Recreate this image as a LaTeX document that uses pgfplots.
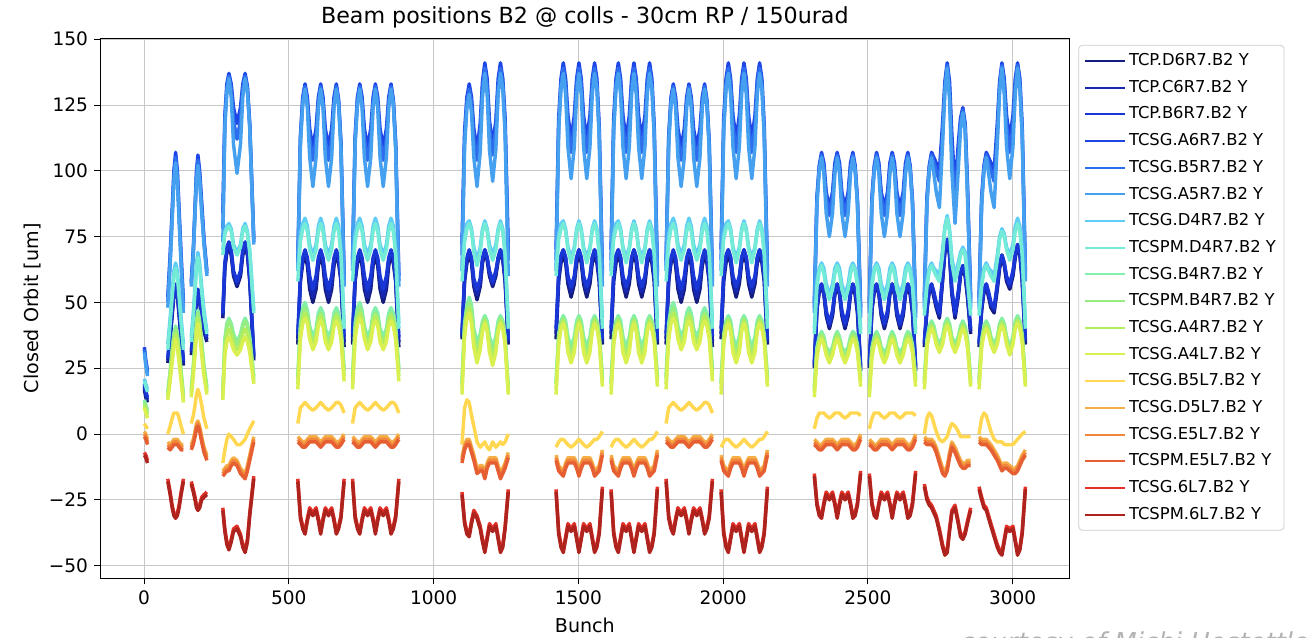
\documentclass[border=0pt]{standalone}
\usepackage{fontspec}
\setmainfont{DejaVu Sans}
\usepackage{pgfplots}
\usepackage{pgfplotstable}
\pgfplotsset{compat=1.18}
\definecolor{s1}{RGB}{20,28,125}
\definecolor{s2}{RGB}{22,40,175}
\definecolor{s3}{RGB}{25,55,215}
\definecolor{s4}{RGB}{30,70,230}
\definecolor{s5}{RGB}{45,110,238}
\definecolor{s6}{RGB}{70,160,240}
\definecolor{s7}{RGB}{95,205,245}
\definecolor{s8}{RGB}{115,235,215}
\definecolor{s9}{RGB}{130,240,170}
\definecolor{s10}{RGB}{150,238,130}
\definecolor{s11}{RGB}{180,238,95}
\definecolor{s12}{RGB}{218,240,80}
\definecolor{s13}{RGB}{255,215,80}
\definecolor{s14}{RGB}{245,175,70}
\definecolor{s15}{RGB}{240,135,60}
\definecolor{s16}{RGB}{230,95,50}
\definecolor{s17}{RGB}{228,50,40}
\definecolor{s18}{RGB}{175,35,30}
\pgfplotstableread{
x n1 n2 n3 u1 u2 u3 c1 c2 g1 g2 g3 g4 yy o1 o2 o3 r1 r2
1 17 18 19 33 32 31 21 20 13 12 11 10 4 1 0 -1 -7 -8
6 14 15 16 28 27 26 19 18 11 10 9 8 3 0 -1 -2 -8 -9
12 12 13 14 24 23 22 17 16 9 8 7 6 2 -2 -3 -4 -10 -11
40 nan nan nan nan nan nan nan nan nan nan nan nan nan nan nan nan nan nan
82 27 28 29 52 50 48 34 32 16 15 14 13 0 -3 -4 -5 -17 -18
90 36 37 38 68 66 64 44 42 24 23 22 20 3 -4 -5 -6 -22 -23
97 45 46 47 85 83 81 54 52 32 31 29 27 6 -3 -4 -5 -27 -28
103 53 53 54 100 98 96 62 60 38 37 35 33 8 -2 -3 -4 -30 -31
109 56 56 57 107 105 103 65 63 41 40 38 36 8 -2 -3 -4 -31 -32
115 53 53 54 100 98 96 62 60 38 37 35 33 8 -2 -3 -4 -30 -31
121 45 46 47 85 83 81 54 52 32 31 29 27 6 -3 -4 -5 -27 -28
128 36 37 38 68 66 64 44 42 24 23 22 20 3 -4 -5 -6 -22 -23
136 26 27 28 50 48 46 34 32 15 14 13 12 0 -4 -5 -6 -17 -18
150 nan nan nan nan nan nan nan nan nan nan nan nan nan nan nan nan nan nan
163 30 31 32 58 57 56 37 35 17 16 15 14 4 -4 -5 -6 -18 -19
170 36 37 38 70 69 68 46 44 26 25 24 22 7 -2 -3 -4 -21 -22
176 43 44 45 86 85 84 56 54 35 34 32 30 11 1 0 -1 -24 -25
181 50 51 51 100 98 96 65 63 43 42 40 38 15 4 3 2 -27 -28
186 54 55 55 106 104 102 69 67 47 46 44 42 17 5 4 3 -28 -29
192 50 51 51 100 98 96 65 63 43 42 40 38 15 3 2 1 -27 -28
199 44 45 46 88 86 84 56 54 35 34 32 30 11 -1 -2 -3 -24 -25
207 39 40 41 74 73 72 47 45 26 25 24 22 6 -5 -6 -7 -23 -24
217 35 36 37 62 61 60 39 38 18 17 16 15 2 -8 -9 -10 -22 -23
245 nan nan nan nan nan nan nan nan nan nan nan nan nan nan nan nan nan nan
272 44 45 46 84 78 73 70 68 16 15 14 13 -11 -14 -15 -16 -28 -29
279 63 64 65 121 119 116 77 76 36 35 32 30 -6 -13 -14 -15 -36 -37
286 69 70 71 133 131 130 79 78 42 41 38 35 -2 -12 -13 -14 -41 -42
293 71 72 73 137 136 135 80 79 44 43 40 37 0 -12 -13 -14 -43 -44
301 68 69 70 133 131 128 78 77 42 41 38 35 -1 -10 -11 -12 -40 -41
309 60 61 62 124 119 110 72 71 38 37 34 32 -2 -9 -10 -11 -36 -37
321 56 57 58 118 112 99 69 68 35 34 32 30 -4 -10 -11 -12 -35 -36
333 60 61 62 124 119 110 72 71 38 37 34 32 -4 -13 -14 -15 -38 -39
341 68 69 70 133 131 128 78 77 42 41 38 35 -3 -14 -15 -16 -42 -43
349 71 72 73 137 136 135 80 79 44 43 40 37 -2 -15 -16 -17 -44 -45
357 68 69 70 132 131 130 77 76 42 41 38 35 0 -12 -13 -14 -40 -41
365 58 59 60 118 117 116 70 69 37 36 34 31 2 -8 -9 -10 -30 -31
379 28 29 30 74 73 72 47 46 22 21 20 19 5 -1 -2 -3 -16 -17
450 nan nan nan nan nan nan nan nan nan nan nan nan nan nan nan nan nan nan
531 34 36 38 66 64 62 62 58 22 21 19 17 4 -1 -2 -3 -17 -18
540 58 59 60 113 112 110 76 73 42 40 38 36 10 -2 -3 -4 -31 -32
548 65 66 67 128 127 125 80 78 48 46 44 42 11 -3 -4 -5 -35 -36
556 68 69 70 133 132 131 82 80 50 48 46 44 12 -3 -4 -5 -37 -38
564 64 66 67 128 126 124 79 77 47 45 44 42 11 -2 -3 -4 -32 -33
572 55 57 60 116 112 105 72 70 41 39 38 36 10 -1 -2 -3 -28 -29
583 50 52 55 109 104 94 68 66 37 35 34 32 9 -1 -2 -3 -30 -31
594 55 57 60 116 112 105 72 70 40 38 37 35 10 -1 -2 -3 -28 -29
602 64 66 67 128 126 124 79 77 46 44 43 41 11 -2 -3 -4 -32 -33
610 68 69 70 133 132 131 82 80 48 46 45 43 12 -3 -4 -5 -37 -38
618 64 66 67 128 126 124 79 77 46 44 43 41 11 -2 -3 -4 -32 -33
626 55 57 60 116 112 105 72 70 40 38 37 35 10 -1 -2 -3 -28 -29
637 50 52 55 109 104 94 68 66 37 35 34 32 9 -1 -2 -3 -30 -31
648 55 57 60 116 112 105 72 70 40 38 37 35 10 -1 -2 -3 -28 -29
656 64 66 67 128 126 124 79 77 46 44 43 41 11 -2 -3 -4 -32 -33
664 68 69 70 133 132 131 82 80 48 46 45 43 12 -3 -4 -5 -37 -38
672 65 66 67 127 126 125 79 77 46 44 43 41 12 -3 -4 -5 -35 -36
680 58 59 60 111 110 108 70 68 41 39 38 36 11 -2 -3 -4 -31 -32
691 33 35 37 60 58 56 42 40 25 24 22 20 8 0 -1 -2 -17 -18
705 nan nan nan nan nan nan nan nan nan nan nan nan nan nan nan nan nan nan
720 34 36 38 66 64 62 62 58 22 21 19 17 4 -1 -2 -3 -17 -18
729 58 59 60 113 112 110 76 73 42 40 38 36 10 -2 -3 -4 -31 -32
737 65 66 67 128 127 125 80 78 48 46 44 42 11 -3 -4 -5 -35 -36
745 68 69 70 133 132 131 82 80 50 48 46 44 12 -3 -4 -5 -37 -38
753 64 66 67 128 126 124 79 77 47 45 44 42 11 -2 -3 -4 -32 -33
761 55 57 60 116 112 105 72 70 41 39 38 36 10 -1 -2 -3 -28 -29
772 50 52 55 109 104 94 68 66 37 35 34 32 9 -1 -2 -3 -30 -31
783 55 57 60 116 112 105 72 70 40 38 37 35 10 -1 -2 -3 -28 -29
791 64 66 67 128 126 124 79 77 46 44 43 41 11 -2 -3 -4 -32 -33
799 68 69 70 133 132 131 82 80 48 46 45 43 12 -3 -4 -5 -37 -38
807 64 66 67 128 126 124 79 77 46 44 43 41 11 -2 -3 -4 -32 -33
815 55 57 60 116 112 105 72 70 40 38 37 35 10 -1 -2 -3 -28 -29
826 50 52 55 109 104 94 68 66 37 35 34 32 9 -1 -2 -3 -30 -31
837 55 57 60 116 112 105 72 70 40 38 37 35 10 -1 -2 -3 -28 -29
845 64 66 67 128 126 124 79 77 46 44 43 41 11 -2 -3 -4 -32 -33
853 68 69 70 133 132 131 82 80 48 46 45 43 12 -3 -4 -5 -37 -38
861 65 66 67 127 126 125 79 77 46 44 43 41 12 -3 -4 -5 -35 -36
869 58 59 60 111 110 108 70 68 41 39 38 36 11 -2 -3 -4 -31 -32
880 33 35 37 60 58 56 42 40 25 24 22 20 8 0 -1 -2 -17 -18
990 nan nan nan nan nan nan nan nan nan nan nan nan nan nan nan nan nan nan
1098 36 37 38 72 68 62 62 58 20 19 17 15 -4 -9 -10 -11 -22 -23
1107 58 59 60 115 112 109 75 73 42 41 39 37 10 -4 -5 -6 -33 -34
1115 65 66 67 128 126 124 80 78 49 48 46 44 13 -2 -3 -4 -37 -38
1123 68 69 70 133 131 129 81 80 52 50 48 46 12 -2 -3 -4 -38 -39
1131 65 66 67 128 126 122 78 77 49 47 44 42 7 -5 -6 -7 -33 -34
1139 56 57 59 116 112 105 71 69 40 38 35 33 3 -8 -9 -10 -29 -30
1150 51 53 55 108 104 94 66 64 35 33 30 27 -3 -13 -14 -15 -31 -32
1161 56 57 59 118 115 107 71 69 38 36 34 32 -5 -12 -13 -14 -35 -36
1169 65 66 67 134 132 128 78 77 43 42 40 39 -4 -12 -13 -14 -40 -41
1177 69 70 70 141 139 137 81 80 45 44 43 42 -3 -15 -16 -17 -44 -45
1185 66 67 67 135 132 129 78 77 43 41 40 39 -5 -11 -12 -13 -39 -40
1193 60 61 62 119 116 108 72 70 37 35 33 31 -6 -9 -10 -11 -34 -35
1204 56 57 58 110 106 96 68 66 33 31 28 26 -3 -9 -10 -11 -36 -37
1215 60 61 62 119 116 108 72 70 37 35 33 31 -5 -9 -10 -11 -34 -35
1223 66 67 67 135 132 129 78 77 43 41 40 39 -4 -12 -13 -14 -39 -40
1231 69 70 70 141 139 137 81 80 45 44 43 42 -3 -15 -16 -17 -44 -45
1239 66 67 67 135 133 131 78 77 43 42 41 40 -4 -13 -14 -15 -42 -43
1247 58 59 60 120 117 114 69 68 37 36 35 34 -3 -11 -12 -13 -35 -36
1258 34 35 36 70 66 60 42 40 18 17 16 15 0 -7 -8 -9 -21 -22
1340 nan nan nan nan nan nan nan nan nan nan nan nan nan nan nan nan nan nan
1423 36 38 40 70 66 62 64 60 20 19 17 15 -5 -8 -9 -10 -21 -22
1432 58 60 61 120 117 115 76 74 38 37 35 34 -3 -12 -13 -14 -37 -38
1440 65 67 68 135 133 131 80 78 43 42 41 40 -2 -13 -14 -15 -42 -43
1448 68 70 70 141 139 137 81 80 45 44 43 42 -2 -14 -15 -16 -44 -45
1456 65 67 67 135 133 129 78 77 43 41 40 39 -3 -11 -12 -13 -39 -40
1464 57 59 60 121 117 109 71 70 37 35 33 31 -4 -9 -10 -11 -34 -35
1475 52 54 56 112 107 97 67 65 33 31 29 27 -5 -9 -10 -11 -36 -37
1486 57 59 60 121 117 109 71 70 37 35 33 31 -4 -9 -10 -11 -34 -35
1494 65 67 67 135 133 129 78 77 43 41 40 39 -3 -11 -12 -13 -39 -40
1502 68 70 70 141 139 137 81 80 45 44 43 42 -2 -14 -15 -16 -44 -45
1510 65 67 67 135 133 129 78 77 43 41 40 39 -3 -11 -12 -13 -39 -40
1518 57 59 60 121 117 109 71 70 37 35 33 31 -4 -9 -10 -11 -34 -35
1529 52 54 56 112 107 97 67 65 33 31 29 27 -5 -9 -10 -11 -36 -37
1540 57 59 60 121 117 109 71 70 37 35 33 31 -4 -9 -10 -11 -34 -35
1548 65 67 67 135 133 129 78 77 43 41 40 39 -3 -11 -12 -13 -39 -40
1556 68 70 70 141 139 137 81 80 45 44 43 42 -2 -14 -15 -16 -44 -45
1564 65 67 67 135 133 131 78 77 43 42 41 40 -2 -13 -14 -15 -42 -43
1572 58 60 60 117 115 113 70 68 38 37 36 35 -1 -12 -13 -14 -37 -38
1583 34 35 36 62 60 56 44 40 22 21 20 18 1 -6 -7 -8 -20 -21
1598 nan nan nan nan nan nan nan nan nan nan nan nan nan nan nan nan nan nan
1613 36 38 40 70 66 62 64 60 20 19 17 15 -5 -8 -9 -10 -21 -22
1622 58 60 61 120 117 115 76 74 38 37 35 34 -3 -12 -13 -14 -37 -38
1630 65 67 68 135 133 131 80 78 43 42 41 40 -2 -13 -14 -15 -42 -43
1638 68 70 70 141 139 137 81 80 45 44 43 42 -2 -14 -15 -16 -44 -45
1646 65 67 67 135 133 129 78 77 43 41 40 39 -3 -11 -12 -13 -39 -40
1654 57 59 60 121 117 109 71 70 37 35 33 31 -4 -9 -10 -11 -34 -35
1665 52 54 56 112 107 97 67 65 33 31 29 27 -5 -9 -10 -11 -36 -37
1676 57 59 60 121 117 109 71 70 37 35 33 31 -4 -9 -10 -11 -34 -35
1684 65 67 67 135 133 129 78 77 43 41 40 39 -3 -11 -12 -13 -39 -40
1692 68 70 70 141 139 137 81 80 45 44 43 42 -2 -14 -15 -16 -44 -45
1700 65 67 67 135 133 129 78 77 43 41 40 39 -3 -11 -12 -13 -39 -40
1708 57 59 60 121 117 109 71 70 37 35 33 31 -4 -9 -10 -11 -34 -35
1719 52 54 56 112 107 97 67 65 33 31 29 27 -5 -9 -10 -11 -36 -37
1730 57 59 60 121 117 109 71 70 37 35 33 31 -4 -9 -10 -11 -34 -35
1738 65 67 67 135 133 129 78 77 43 41 40 39 -3 -11 -12 -13 -39 -40
1746 68 70 70 141 139 137 81 80 45 44 43 42 -2 -14 -15 -16 -44 -45
1754 65 67 67 135 133 131 78 77 43 42 41 40 -2 -13 -14 -15 -42 -43
1762 58 60 60 117 115 113 70 68 38 37 36 35 -1 -12 -13 -14 -37 -38
1773 34 35 36 62 60 56 44 40 22 21 20 18 1 -6 -7 -8 -20 -21
1788 nan nan nan nan nan nan nan nan nan nan nan nan nan nan nan nan nan nan
1803 34 36 38 66 64 62 62 58 22 21 19 17 4 -1 -2 -3 -17 -18
1812 58 59 60 113 112 110 76 73 42 40 38 36 10 -2 -3 -4 -31 -32
1820 65 66 67 128 127 125 80 78 48 46 44 42 11 -3 -4 -5 -35 -36
1828 68 69 70 133 132 131 82 80 50 48 46 44 12 -3 -4 -5 -37 -38
1836 64 66 67 128 126 124 79 77 47 45 44 42 11 -2 -3 -4 -32 -33
1844 55 57 60 116 112 105 72 70 41 39 38 36 10 -1 -2 -3 -28 -29
1855 50 52 55 109 104 94 68 66 37 35 34 32 9 -1 -2 -3 -30 -31
1866 55 57 60 116 112 105 72 70 40 38 37 35 10 -1 -2 -3 -28 -29
1874 64 66 67 128 126 124 79 77 46 44 43 41 11 -2 -3 -4 -32 -33
1882 68 69 70 133 132 131 82 80 48 46 45 43 12 -3 -4 -5 -37 -38
1890 64 66 67 128 126 124 79 77 46 44 43 41 11 -2 -3 -4 -32 -33
1898 55 57 60 116 112 105 72 70 40 38 37 35 10 -1 -2 -3 -28 -29
1909 50 52 55 109 104 94 68 66 37 35 34 32 9 -1 -2 -3 -30 -31
1920 55 57 60 116 112 105 72 70 40 38 37 35 10 -1 -2 -3 -28 -29
1928 64 66 67 128 126 124 79 77 46 44 43 41 11 -2 -3 -4 -32 -33
1936 68 69 70 133 132 131 82 80 48 46 45 43 12 -3 -4 -5 -37 -38
1944 65 66 67 127 126 125 79 77 46 44 43 41 12 -3 -4 -5 -35 -36
1952 58 59 60 111 110 108 70 68 41 39 38 36 11 -2 -3 -4 -31 -32
1963 33 35 37 60 58 56 42 40 25 24 22 20 8 0 -1 -2 -17 -18
1978 nan nan nan nan nan nan nan nan nan nan nan nan nan nan nan nan nan nan
1993 36 38 40 70 66 62 64 60 20 19 17 15 -5 -8 -9 -10 -21 -22
2002 58 60 61 120 117 115 76 74 38 37 35 34 -3 -12 -13 -14 -37 -38
2010 65 67 68 135 133 131 80 78 43 42 41 40 -2 -13 -14 -15 -42 -43
2018 68 70 70 141 139 137 81 80 45 44 43 42 -2 -14 -15 -16 -44 -45
2026 65 67 67 135 133 129 78 77 43 41 40 39 -3 -11 -12 -13 -39 -40
2034 57 59 60 121 117 109 71 70 37 35 33 31 -4 -9 -10 -11 -34 -35
2045 52 54 56 112 107 97 67 65 33 31 29 27 -5 -9 -10 -11 -36 -37
2056 57 59 60 121 117 109 71 70 37 35 33 31 -4 -9 -10 -11 -34 -35
2064 65 67 67 135 133 129 78 77 43 41 40 39 -3 -11 -12 -13 -39 -40
2072 68 70 70 141 139 137 81 80 45 44 43 42 -2 -14 -15 -16 -44 -45
2080 65 67 67 135 133 129 78 77 43 41 40 39 -3 -11 -12 -13 -39 -40
2088 57 59 60 121 117 109 71 70 37 35 33 31 -4 -9 -10 -11 -34 -35
2099 52 54 56 112 107 97 67 65 33 31 29 27 -5 -9 -10 -11 -36 -37
2110 57 59 60 121 117 109 71 70 37 35 33 31 -4 -9 -10 -11 -34 -35
2118 65 67 67 135 133 129 78 77 43 41 40 39 -3 -11 -12 -13 -39 -40
2126 68 70 70 141 139 137 81 80 45 44 43 42 -2 -14 -15 -16 -44 -45
2134 65 67 67 135 133 131 78 77 43 42 41 40 -2 -13 -14 -15 -42 -43
2142 58 60 60 117 115 113 70 68 38 37 36 35 -1 -12 -13 -14 -37 -38
2153 34 35 36 62 60 56 44 40 22 21 20 18 1 -6 -7 -8 -20 -21
2230 nan nan nan nan nan nan nan nan nan nan nan nan nan nan nan nan nan nan
2315 25 26 27 50 48 46 40 38 18 17 16 14 2 -2 -3 -4 -15 -16
2324 47 48 48 90 89 87 58 56 33 32 31 29 6 -3 -4 -5 -26 -27
2332 54 55 55 102 101 100 63 62 37 36 35 34 8 -4 -5 -6 -30 -31
2340 56 57 57 107 106 105 65 64 39 38 37 36 8 -4 -5 -6 -31 -32
2348 53 54 54 103 101 99 63 61 37 36 35 34 8 -3 -4 -5 -26 -27
2356 45 46 47 92 90 84 57 55 33 32 31 30 7 -2 -3 -4 -22 -23
2367 40 41 42 86 83 75 53 51 31 30 29 27 6 -2 -3 -4 -24 -25
2378 45 46 47 92 90 84 57 55 33 32 31 30 7 -2 -3 -4 -22 -23
2386 53 54 54 103 101 99 63 61 37 36 35 34 8 -3 -4 -5 -26 -27
2394 56 57 57 107 106 105 65 64 39 38 37 36 8 -4 -5 -6 -31 -32
2402 53 54 54 103 101 99 63 61 37 36 35 34 8 -3 -4 -5 -26 -27
2410 45 46 47 92 90 84 57 55 33 32 31 30 7 -2 -3 -4 -22 -23
2421 40 41 42 86 83 75 53 51 31 30 29 27 6 -2 -3 -4 -24 -25
2432 45 46 47 92 90 84 57 55 33 32 31 30 7 -2 -3 -4 -22 -23
2440 53 54 54 103 101 99 63 61 37 36 35 34 8 -3 -4 -5 -26 -27
2448 56 57 57 107 106 105 65 64 39 38 37 36 8 -4 -5 -6 -31 -32
2456 53 54 55 102 101 100 63 62 38 37 36 35 8 -4 -5 -6 -30 -31
2464 46 47 48 89 88 87 58 56 34 33 32 31 8 -3 -4 -5 -26 -27
2475 24 25 26 48 46 44 40 38 22 21 20 18 7 0 -1 -2 -14 -15
2490 nan nan nan nan nan nan nan nan nan nan nan nan nan nan nan nan nan nan
2505 25 26 27 50 48 46 40 38 18 17 16 14 2 -2 -3 -4 -15 -16
2514 47 48 48 90 89 87 58 56 33 32 31 29 6 -3 -4 -5 -26 -27
2522 54 55 55 102 101 100 63 62 37 36 35 34 8 -4 -5 -6 -30 -31
2530 56 57 57 107 106 105 65 64 39 38 37 36 8 -4 -5 -6 -31 -32
2538 53 54 54 103 101 99 63 61 37 36 35 34 8 -3 -4 -5 -26 -27
2546 45 46 47 92 90 84 57 55 33 32 31 30 7 -2 -3 -4 -22 -23
2557 40 41 42 86 83 75 53 51 31 30 29 27 6 -2 -3 -4 -24 -25
2568 45 46 47 92 90 84 57 55 33 32 31 30 7 -2 -3 -4 -22 -23
2576 53 54 54 103 101 99 63 61 37 36 35 34 8 -3 -4 -5 -26 -27
2584 56 57 57 107 106 105 65 64 39 38 37 36 8 -4 -5 -6 -31 -32
2592 53 54 54 103 101 99 63 61 37 36 35 34 8 -3 -4 -5 -26 -27
2600 45 46 47 92 90 84 57 55 33 32 31 30 7 -2 -3 -4 -22 -23
2611 40 41 42 86 83 75 53 51 31 30 29 27 6 -2 -3 -4 -24 -25
2622 45 46 47 92 90 84 57 55 33 32 31 30 7 -2 -3 -4 -22 -23
2630 53 54 54 103 101 99 63 61 37 36 35 34 8 -3 -4 -5 -26 -27
2638 56 57 57 107 106 105 65 64 39 38 37 36 8 -4 -5 -6 -31 -32
2646 53 54 55 102 101 100 63 62 38 37 36 35 8 -4 -5 -6 -30 -31
2654 46 47 48 89 88 87 58 56 34 33 32 31 8 -3 -4 -5 -26 -27
2665 24 25 26 48 46 44 40 38 22 21 20 18 7 0 -1 -2 -14 -15
2680 nan nan nan nan nan nan nan nan nan nan nan nan nan nan nan nan nan nan
2695 33 34 35 52 50 48 47 45 21 20 19 17 0 -1 -2 -3 -19 -20
2704 47 48 48 90 89 87 58 56 36 35 34 33 6 -2 -3 -4 -24 -25
2712 54 55 55 102 101 100 63 62 41 40 39 38 8 -2 -3 -4 -26 -27
2720 56 57 57 107 106 105 65 64 43 42 41 40 7 -2 -3 -4 -27 -28
2728 52 53 54 105 103 99 63 62 41 40 39 38 4 -3 -4 -5 -29 -30
2736 48 49 50 103 100 92 62 60 37 36 35 34 1 -5 -6 -7 -31 -32
2747 44 45 46 100 96 86 60 58 34 33 32 31 -2 -9 -10 -11 -36 -37
2758 58 59 60 118 114 110 70 68 37 36 35 34 -3 -13 -14 -15 -42 -43
2766 69 70 70 134 132 130 79 78 42 41 40 39 -2 -14 -15 -16 -45 -46
2774 73 74 74 141 140 139 83 82 44 43 42 41 -1 -12 -13 -14 -44 -45
2782 68 69 69 134 131 127 78 77 42 41 40 39 2 -7 -8 -9 -36 -37
2790 53 54 55 114 108 100 67 65 37 36 35 34 4 -3 -4 -5 -29 -30
2801 44 45 46 92 86 80 60 58 34 33 32 31 3 -5 -6 -7 -27 -28
2812 52 53 54 110 106 100 65 63 37 36 35 34 1 -8 -9 -10 -33 -34
2820 60 61 61 120 118 116 69 68 41 40 39 38 -1 -10 -11 -12 -38 -39
2828 63 64 64 124 123 122 71 70 43 42 41 40 -1 -11 -12 -13 -39 -40
2836 60 61 61 118 117 115 69 68 41 40 39 38 -1 -11 -12 -13 -37 -38
2844 52 53 54 95 93 90 60 58 36 35 34 33 -1 -10 -11 -12 -33 -34
2855 38 39 40 52 50 48 47 45 21 20 19 18 -1 -10 -11 -12 -28 -29
2870 nan nan nan nan nan nan nan nan nan nan nan nan nan nan nan nan nan nan
2884 33 34 35 52 50 48 47 45 21 20 19 17 0 -1 -2 -3 -20 -21
2893 47 48 48 90 89 87 58 56 36 35 34 33 6 -2 -3 -4 -24 -25
2901 54 55 55 102 101 100 63 62 41 40 39 38 8 -2 -3 -4 -27 -28
2909 56 57 57 107 106 105 65 64 43 42 41 40 7 -2 -3 -4 -28 -29
2917 52 53 54 105 103 99 63 62 41 40 39 38 4 -3 -4 -5 -31 -32
2925 48 49 50 103 100 92 62 60 37 36 35 34 1 -4 -5 -6 -34 -35
2936 46 47 48 100 96 86 60 58 34 33 32 31 -2 -6 -7 -8 -38 -39
2947 55 56 57 118 114 110 68 66 37 36 35 34 -3 -8 -9 -10 -42 -43
2955 63 64 65 134 132 130 75 74 42 41 40 39 -3 -10 -11 -12 -44 -45
2963 67 68 68 141 140 139 78 77 44 43 42 41 -3 -12 -13 -14 -45 -46
2971 64 65 65 135 133 129 76 75 42 41 40 39 -4 -11 -12 -13 -40 -41
2979 58 59 60 121 117 109 71 70 37 36 35 34 -4 -11 -12 -13 -35 -36
2990 55 56 57 112 107 97 68 66 33 32 31 30 -4 -12 -13 -14 -36 -37
3001 60 61 62 121 117 109 72 70 37 36 35 34 -4 -13 -14 -15 -35 -36
3009 67 68 68 135 133 129 79 77 43 42 41 40 -3 -13 -14 -15 -40 -41
3017 71 72 72 141 140 139 82 80 45 44 43 42 -2 -12 -13 -14 -45 -46
3025 68 69 69 135 133 131 79 77 43 42 41 40 -1 -10 -11 -12 -43 -44
3033 58 59 60 117 115 113 70 68 38 37 36 35 0 -8 -9 -10 -37 -38
3044 34 35 36 62 60 58 42 40 21 20 19 18 1 -6 -7 -8 -20 -21
}\data
\begin{document}
\begin{tikzpicture}
\begin{axis}[
  at={(0pt,0pt)}, anchor=south west,
  scale only axis, width=533pt, height=297pt,
  xmin=-151, xmax=3196, ymin=-54.8, ymax=150.3,
  xtick={0,500,1000,1500,2000,2500,3000},
  xticklabels={0,500,1000,1500,2000,2500,3000},
  ytick={-50,-25,0,25,50,75,100,125,150},
  yticklabels={−50,−25,0,25,50,75,100,125,150},
  tick align=outside, tick pos=left,
  major tick length=3.3pt,
  tick style={black, line width=0.5pt},
  axis line style={line width=0.5pt},
  grid=major, grid style={color=black!22, line width=0.5pt},
  ticklabel style={font=\fontsize{10.2}{12}\selectfont},
  title={Beam positions B2 @ colls - 30cm RP / 150urad},
  every axis title/.style={at={(axis description cs:0.5,1.038)}, anchor=center, font=\fontsize{12.2}{14}\selectfont},
  xlabel={Bunch},
  xlabel style={at={(axis description cs:0.5,-0.0865)}, anchor=center, font=\fontsize{10.5}{12}\selectfont},
  ylabel={Closed Orbit [um]},
  ylabel style={at={(axis description cs:-0.0705,0.5)}, anchor=center, font=\fontsize{10.5}{12}\selectfont},
  unbounded coords=jump,
  every axis plot/.append style={line width=1.9pt, line join=round},
  legend cell align=left,
  legend image code/.code={\draw[#1, line width=1.1pt] (0pt,0pt) -- (22pt,0pt);},
  legend style={at={(axis description cs:1,1)}, anchor=north west, xshift=5pt, yshift=-3.6pt,
    draw=black!20, rounded corners=2pt, fill=white,
    font=\fontsize{9}{11}\selectfont, inner xsep=3pt, inner ysep=3pt,
    row sep=3.5pt, nodes={inner sep=1.5pt}},
]
\addplot[s1] table[x=x,y=n1]{\data}; \addlegendentry{TCP.D6R7.B2 Y}
\addplot[s2] table[x=x,y=n2]{\data}; \addlegendentry{TCP.C6R7.B2 Y}
\addplot[s3] table[x=x,y=n3]{\data}; \addlegendentry{TCP.B6R7.B2 Y}
\addplot[s4] table[x=x,y=u1]{\data}; \addlegendentry{TCSG.A6R7.B2 Y}
\addplot[s5] table[x=x,y=u2]{\data}; \addlegendentry{TCSG.B5R7.B2 Y}
\addplot[s6] table[x=x,y=u3]{\data}; \addlegendentry{TCSG.A5R7.B2 Y}
\addplot[s7] table[x=x,y=c1]{\data}; \addlegendentry{TCSG.D4R7.B2 Y}
\addplot[s8] table[x=x,y=c2]{\data}; \addlegendentry{TCSPM.D4R7.B2 Y}
\addplot[s9] table[x=x,y=g1]{\data}; \addlegendentry{TCSG.B4R7.B2 Y}
\addplot[s10] table[x=x,y=g2]{\data}; \addlegendentry{TCSPM.B4R7.B2 Y}
\addplot[s11] table[x=x,y=g3]{\data}; \addlegendentry{TCSG.A4R7.B2 Y}
\addplot[s12] table[x=x,y=g4]{\data}; \addlegendentry{TCSG.A4L7.B2 Y}
\addplot[s13] table[x=x,y=yy]{\data}; \addlegendentry{TCSG.B5L7.B2 Y}
\addplot[s14] table[x=x,y=o1]{\data}; \addlegendentry{TCSG.D5L7.B2 Y}
\addplot[s15] table[x=x,y=o2]{\data}; \addlegendentry{TCSG.E5L7.B2 Y}
\addplot[s16] table[x=x,y=o3]{\data}; \addlegendentry{TCSPM.E5L7.B2 Y}
\addplot[s17] table[x=x,y=r1]{\data}; \addlegendentry{TCSG.6L7.B2 Y}
\addplot[s18] table[x=x,y=r2]{\data}; \addlegendentry{TCSPM.6L7.B2 Y}
\end{axis}
\node[anchor=base west, font=\fontsize{14.3}{16}\selectfont\itshape, text=black!30] at (469.5pt,-40pt) {courtesy of Michi Hostettler};
\pgfresetboundingbox
\useasboundingbox (-55.2pt,-32.8pt) rectangle (663.7pt,318.1pt);
\end{tikzpicture}
\end{document}
